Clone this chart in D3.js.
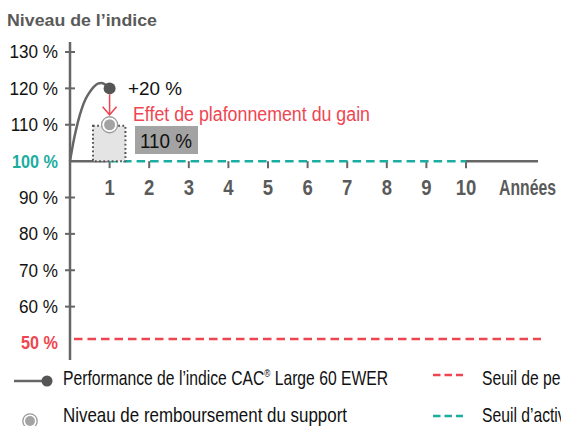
<!DOCTYPE html>
<html>
<head>
<meta charset="utf-8">
<script src="https://cdn.jsdelivr.net/npm/d3@7"></script>
<style>
  body { margin: 0; background: #fff; }
  svg { display: block; font-family: "Liberation Sans", Arial, Helvetica, sans-serif; }
</style>
</head>
<body>
<div id="chart"></div>
<script>
// data
var yTicks = [130, 120, 110, 100, 90, 80, 70, 60, 50];
var years = [1, 2, 3, 4, 5, 6, 7, 8, 9, 10];
var perfYears = [0, 0.1, 0.2, 0.3, 0.4, 0.5, 0.6, 0.7, 0.8, 0.9, 1];
var perfLevels = [100, 106, 110.8, 114.5, 117.2, 119, 120.4, 121.3, 121.5, 121, 120];
var capLevel = 110;
var gainPct = 20;
var barrierCapital = 50;
var barrierRecall = 100;
var legendItems = [
  ["Performance de l\u2019indice CAC", "\u00ae", " Large 60 EWER"],
  ["Niveau de remboursement du support"]
];
var legendLines = [
  "Seuil de perte en capital \u00e0 l\u2019\u00e9ch\u00e9ance",
  "Seuil d\u2019activation du m\u00e9canisme de remboursement anticip\u00e9"
];

var W = 561, H = 426;
var GRAY = "#666", TEAL = "#1aada0", RED = "#ef4550", DARK = "#5a5a5a";

var svg = d3.select("#chart").append("svg")
  .attr("width", W).attr("height", H);

var x = d3.scaleLinear().domain([0, 10]).range([70, 466]);
var y = d3.scaleLinear().domain([50, 130]).range([343, 52]);

// squeeze a text to a target width (condensed face look-alike)
function fit(sel, w) {
  sel.attr("textLength", w).attr("lengthAdjust", "spacingAndGlyphs");
  return sel;
}
function squeeze(sel, k) {
  var n = sel.node().getComputedTextLength();
  return fit(sel, n * k);
}

// title
fit(svg.append("text").attr("x", 7).attr("y", 26)
  .attr("font-size", 16.5).attr("font-weight", "bold").attr("fill", DARK)
  .text("Niveau de l\u2019indice"), 150);

// y axis line
svg.append("line").attr("x1", 70).attr("x2", 70).attr("y1", 42).attr("y2", 360)
  .attr("stroke", GRAY).attr("stroke-width", 2.5);

// y ticks + labels
yTicks.forEach(function(v) {
  if (v != 100 && v != 50) {
    svg.append("line").attr("x1", 65).attr("x2", 75)
      .attr("y1", y(v)).attr("y2", y(v))
      .attr("stroke", GRAY).attr("stroke-width", 2);
  }
  var col = v == 100 ? TEAL : (v == 50 ? RED : "#111");
  var t = svg.append("text").attr("x", 58).attr("y", y(v))
    .attr("dy", "0.36em").attr("text-anchor", "end")
    .attr("font-size", 18).attr("fill", col)
    .attr("font-weight", (v == 100 || v == 50) ? "bold" : "normal")
    .text(v + " %");
  squeeze(t, (v == 100 || v == 50) ? 0.9 : 0.95);
});

// x axis (gray where no dashed barrier)
svg.append("line").attr("x1", 70).attr("x2", x(1) - 2).attr("y1", y(100)).attr("y2", y(100))
  .attr("stroke", GRAY).attr("stroke-width", 2.5);
svg.append("line").attr("x1", x(10)).attr("x2", 538).attr("y1", y(100)).attr("y2", y(100))
  .attr("stroke", GRAY).attr("stroke-width", 2.5);

// x ticks
years.forEach(function(t) {
  svg.append("line").attr("x1", x(t)).attr("x2", x(t))
    .attr("y1", y(100)).attr("y2", y(100) + 7)
    .attr("stroke", GRAY).attr("stroke-width", 2);
  var lab = svg.append("text").attr("x", x(t)).attr("y", 195)
    .attr("text-anchor", "middle").attr("font-size", 21.5)
    .attr("font-weight", "bold").attr("fill", DARK)
    .text(t);
  squeeze(lab, 0.86);
});
fit(svg.append("text").attr("x", 499).attr("y", 195)
  .attr("font-size", 21.5).attr("font-weight", "bold").attr("fill", DARK)
  .text("Ann\u00e9es"), 57);

// barriers
svg.append("line").attr("x1", x(1)).attr("x2", x(10))
  .attr("y1", y(barrierRecall)).attr("y2", y(barrierRecall))
  .attr("stroke", TEAL).attr("stroke-width", 2.5).attr("stroke-dasharray", "8.5,5");
svg.append("line").attr("x1", 74).attr("x2", 541)
  .attr("y1", y(barrierCapital) - 4).attr("y2", y(barrierCapital) - 4)
  .attr("stroke", RED).attr("stroke-width", 2.5).attr("stroke-dasharray", "8.5,5");

// cap box
svg.append("rect").attr("x", x(0.58)).attr("y", y(capLevel) + 1)
  .attr("width", x(1.4) - x(0.58)).attr("height", y(100) - y(capLevel) - 1)
  .attr("fill", "#e4e4e5").attr("stroke", "#555").attr("stroke-width", 2)
  .attr("stroke-dasharray", "1.8,2.4");

// performance curve
var line = d3.line().curve(d3.curveMonotoneX)
  .x(function(d, i) { return x(perfYears[i]); })
  .y(function(d) { return y(d); });
svg.append("path").datum(perfLevels).attr("d", line)
  .attr("fill", "none").attr("stroke", GRAY).attr("stroke-width", 2.5);
svg.append("circle").attr("cx", x(1)).attr("cy", y(100 + gainPct)).attr("r", 6)
  .attr("fill", "#555");

// arrow
var ax = x(1), tip = y(capLevel) - 10;
svg.append("line").attr("x1", ax).attr("x2", ax)
  .attr("y1", y(120) + 6).attr("y2", tip)
  .attr("stroke", RED).attr("stroke-width", 1.5);
svg.append("path")
  .attr("d", "M" + (ax - 7) + "," + (tip - 8) + "L" + ax + "," + tip + "L" + (ax + 7) + "," + (tip - 8))
  .attr("fill", "none").attr("stroke", RED).attr("stroke-width", 1.5);

// reimbursement marker
function refundMark(g, cx, cy, s) {
  g.append("circle").attr("cx", cx).attr("cy", cy).attr("r", 8 * s)
    .attr("fill", "#fff").attr("stroke", "#9a9a9a").attr("stroke-width", 1.3);
  g.append("circle").attr("cx", cx).attr("cy", cy).attr("r", 5.5 * s)
    .attr("fill", "#a3a3a3");
}
refundMark(svg, x(1), y(capLevel), 1);

// annotations
fit(svg.append("text").attr("x", 128).attr("y", 95)
  .attr("font-size", 17.5).attr("fill", "#111").text("+" + gainPct + " %"), 54);
fit(svg.append("text").attr("x", 133).attr("y", 121)
  .attr("font-size", 19.5).attr("fill", RED).text("Effet de plafonnement du gain"), 237);
svg.append("rect").attr("x", 135).attr("y", 126).attr("width", 63).attr("height", 28)
  .attr("fill", "#a3a3a3");
fit(svg.append("text").attr("x", 140).attr("y", 147.5)
  .attr("font-size", 20).attr("fill", "#111").text(capLevel + " %"), 52);

// legend
var lg = svg.append("g");
lg.append("line").attr("x1", 14).attr("x2", 46).attr("y1", 381).attr("y2", 381)
  .attr("stroke", GRAY).attr("stroke-width", 2.5);
lg.append("circle").attr("cx", 47).attr("cy", 381).attr("r", 5.5).attr("fill", "#555");
refundMark(lg, 30, 421, 0.9);
var legendW = [325, 284];
var k = 1;
legendItems.forEach(function(parts, i) {
  var el = lg.append("text").attr("x", 63).attr("y", 385 + i * 37)
    .attr("font-size", 21).attr("fill", "#111");
  parts.forEach(function(p) {
    var ts = el.append("tspan").text(p);
    if (p == "\u00ae") ts.attr("font-size", 11).attr("dy", -8);
    else if (el.selectAll("tspan").size() > 1) ts.attr("dy", 8);
  });
  if (i == 0) k = legendW[0] / el.node().getComputedTextLength();
  fit(el, legendW[i]);
});
[RED, TEAL].forEach(function(c, i) {
  lg.append("line").attr("x1", 433).attr("x2", 463)
    .attr("y1", 375 + i * 41).attr("y2", 375 + i * 41)
    .attr("stroke", c).attr("stroke-width", 2.5).attr("stroke-dasharray", "7.5,4");
});
legendLines.forEach(function(t, i) {
  var el = lg.append("text").attr("x", 482).attr("y", 385 + i * 37)
    .attr("font-size", 21).attr("fill", "#111").text(t);
  squeeze(el, k);
});
</script>
</body>
</html>
